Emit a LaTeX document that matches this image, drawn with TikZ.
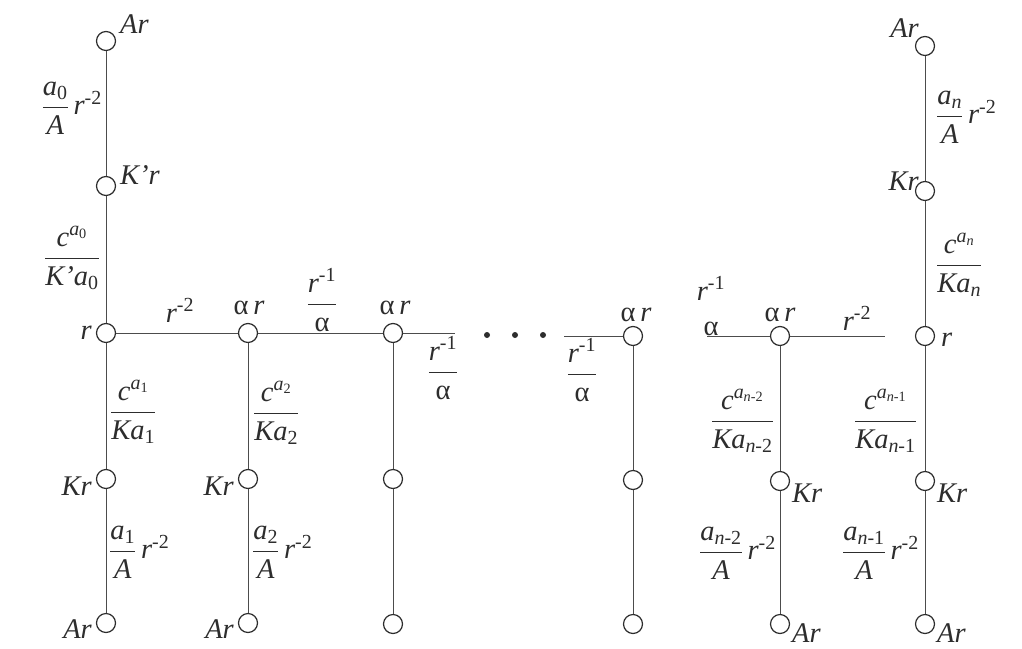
\documentclass[tikz,border=0pt]{standalone}
\usepackage{fix-cm}
\usepackage{amsmath}
\usepackage{fontspec}
\setmainfont{Liberation Serif}
\definecolor{ink}{RGB}{45,45,45}
\newcommand\V[1]{\text{\itshape #1}}
\newcommand\fs{\fontsize{28.5}{33}\selectfont}
\newcommand\ra{$\dfrac{\V{r}^{\text{-1}}}{\text{α}}$}
\begin{document}
\begin{tikzpicture}[x=1pt,y=-1pt]
\tikzset{
 vtx/.style={circle, draw=ink, line width=1.2pt, minimum size=19pt, inner sep=0pt, fill=white},
 edge/.style={draw=ink!85, line width=0.9pt},
 lbl/.style={inner sep=0pt, text=ink, font=\fs},
 dotnode/.style={circle, fill=ink, minimum size=6pt, inner sep=0pt},
}
\useasboundingbox (0,0) rectangle (1022,648);
% vertices
\node[vtx] (c1a) at (106,41) {};
\node[vtx] (c1k) at (106,186) {};
\node[vtx] (c1r) at (106,333) {};
\node[vtx] (c1K) at (106,479) {};
\node[vtx] (c1A) at (106,623) {};
\node[vtx] (c2r) at (248,333) {};
\node[vtx] (c2K) at (248,479) {};
\node[vtx] (c2A) at (248,623) {};
\node[vtx] (c3r) at (393,333) {};
\node[vtx] (c3K) at (393,479) {};
\node[vtx] (c3A) at (393,624) {};
\node[vtx] (c4r) at (633,336) {};
\node[vtx] (c4K) at (633,480) {};
\node[vtx] (c4A) at (633,624) {};
\node[vtx] (c5r) at (780,336) {};
\node[vtx] (c5K) at (780,481) {};
\node[vtx] (c5A) at (780,624) {};
\node[vtx] (c6a) at (925,46) {};
\node[vtx] (c6k) at (925,191) {};
\node[vtx] (c6r) at (925,336) {};
\node[vtx] (c6K) at (925,481) {};
\node[vtx] (c6A) at (925,624) {};
\coordinate (e1) at (455,333);
\coordinate (e2) at (564,336);
\coordinate (e3) at (707,336);
\coordinate (e4) at (885,336);
\node[dotnode] (d1) at (487,335) {};
\node[dotnode] (d2) at (515,335) {};
\node[dotnode] (d3) at (543,335) {};
% edges
\draw[edge] (c1a) -- (c1k) -- (c1r) -- (c1K) -- (c1A);
\draw[edge] (c1r) -- (c2r) -- (c3r) -- (e1);
\draw[edge] (e2) -- (c4r);
\draw[edge] (e3) -- (c5r) -- (e4);
\draw[edge] (c2r) -- (c2K) -- (c2A);
\draw[edge] (c3r) -- (c3K) -- (c3A);
\draw[edge] (c4r) -- (c4K) -- (c4A);
\draw[edge] (c5r) -- (c5K) -- (c5A);
\draw[edge] (c6a) -- (c6k) -- (c6r) -- (c6K) -- (c6A);
% labels left column
\node[lbl, anchor=base west] (l1) at (120,33) {\V{Ar}};
\node[lbl, anchor=east] (l2) at (102,108) {$\dfrac{\V{a}_{\text{0}}}{\V{A}}\,\V{r}^{\text{-2}}$};
\node[lbl, anchor=base west] (l3) at (120,184) {\V{K'r}};
\node[lbl, anchor=east] (l4) at (100,258) {$\dfrac{\V{c}^{\V{a}_{\text{0}}}}{\V{K'a}_{\text{0}}}$};
\node[lbl, anchor=base east] (l5) at (92,339) {\V{r}};
% middle row
\node[lbl, anchor=base] (l6) at (180,322) {$\V{r}^{\text{-2}}$};
\node[lbl, anchor=base] (l7) at (249,314) {α\,\V{r}};
\node[lbl] (l8) at (322,300) {\ra};
\node[lbl, anchor=base] (l9) at (395,314) {α\,\V{r}};
\node[lbl] (l10) at (443,368) {\ra};
\node[lbl] (l11) at (582,370) {\ra};
\node[lbl, anchor=base] (l12) at (636,321) {α\,\V{r}};
\node[lbl, align=center] (l13) at (711,306) {$\V{r}^{\text{-1}}$\\[2pt]α};
\node[lbl, anchor=base] (l14) at (780,321) {α\,\V{r}};
\node[lbl, anchor=base] (l15) at (857,330) {$\V{r}^{\text{-2}}$};
\node[lbl, anchor=base west] (l16) at (941,346) {\V{r}};
% right column top
\node[lbl, anchor=base east] (l17) at (919,37) {\V{Ar}};
\node[lbl, anchor=west] (l18) at (936,117) {$\dfrac{\V{a}_{\V{n}}}{\V{A}}\,\V{r}^{\text{-2}}$};
\node[lbl, anchor=base east] (l19) at (919,190) {\V{Kr}};
\node[lbl, anchor=west] (l20) at (936,265) {$\dfrac{\V{c}^{\V{a}_{\V{n}}}}{\V{Ka}_{\V{n}}}$};
% bottom left
\node[lbl, anchor=west] (l21) at (110,412) {$\dfrac{\V{c}^{\V{a}_{\text{1}}}}{\V{Ka}_{\text{1}}}$};
\node[lbl, anchor=base east] (l22) at (92,495) {\V{Kr}};
\node[lbl, anchor=west] (l23) at (109,552) {$\dfrac{\V{a}_{\text{1}}}{\V{A}}\,\V{r}^{\text{-2}}$};
\node[lbl, anchor=base east] (l24) at (92,638) {\V{Ar}};
\node[lbl, anchor=west] (l25) at (253,413) {$\dfrac{\V{c}^{\V{a}_{\text{2}}}}{\V{Ka}_{\text{2}}}$};
\node[lbl, anchor=base east] (l26) at (234,495) {\V{Kr}};
\node[lbl, anchor=west] (l27) at (252,552) {$\dfrac{\V{a}_{\text{2}}}{\V{A}}\,\V{r}^{\text{-2}}$};
\node[lbl, anchor=base east] (l28) at (234,638) {\V{Ar}};
% bottom right
\node[lbl, anchor=east] (l29) at (774,421) {$\dfrac{\V{c}^{\V{a}_{\V{n}\text{-2}}}}{\V{Ka}_{\V{n}\text{-2}}}$};
\node[lbl, anchor=base west] (l30) at (792,502) {\V{Kr}};
\node[lbl, anchor=east] (l31) at (776,553) {$\dfrac{\V{a}_{\V{n}\text{-2}}}{\V{A}}\,\V{r}^{\text{-2}}$};
\node[lbl, anchor=base west] (l32) at (792,642) {\V{Ar}};
\node[lbl, anchor=east] (l33) at (917,421) {$\dfrac{\V{c}^{\V{a}_{\V{n}\text{-1}}}}{\V{Ka}_{\V{n}\text{-1}}}$};
\node[lbl, anchor=base west] (l34) at (937,502) {\V{Kr}};
\node[lbl, anchor=east] (l35) at (919,553) {$\dfrac{\V{a}_{\V{n}\text{-1}}}{\V{A}}\,\V{r}^{\text{-2}}$};
\node[lbl, anchor=base west] (l36) at (937,642) {\V{Ar}};
\end{tikzpicture}
\end{document}
